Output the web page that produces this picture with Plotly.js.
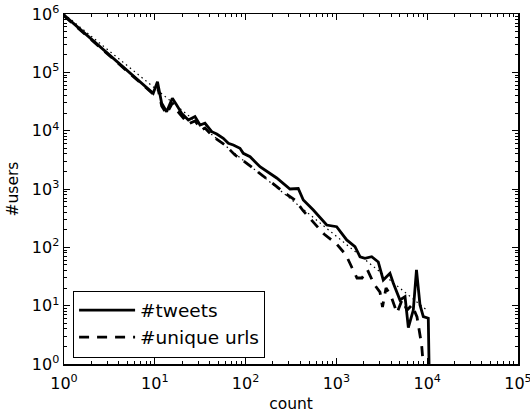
<!DOCTYPE html>
<html>
<head>
<meta charset="utf-8">
<script src="https://cdn.plot.ly/plotly-3.0.1.min.js"></script>
<style>html,body{margin:0;padding:0;background:#fff;}#chart{width:530px;height:413px;}</style>
</head>
<body>
<div id="chart"></div>
<script>
// #tweets (solid)
const tweetsCount = [1,2,3,4,5,6,7,8,9,9.6,10.7,11.9,13.5,15.6,17.4,19.8,23.4,27.7,31.5,35.7,42.4,48.1,56.8,64.5,73.2,86.7,94.3,112,144,220,308,380,432,557,782,1006,1298,1602,1820,2065,2448,2893,3283,3890,4236,5012,5700,6200,7030,7620,8330,9060,10280,10740];
const tweetsUsers = [960000,372000,214000,145000,107000,83000,67000,56000,48000,43700,69200,29500,21100,35900,27500,19800,15200,17400,12500,13400,9620,8770,7390,6080,5680,4990,4090,3580,2410,1545,1000,1020,649,437,241,226,134,103,69,65,69,56,27.5,35.9,24.2,12.5,14.3,4.2,8.4,40.9,10.3,6.5,6.1,0.1];
// #unique urls (dashed)
const urlsCount = [1,2,3,4,5,6,7,8,9,9.6,10.7,11.9,13.5,15.6,17.4,19.8,23.4,27.7,32.9,35.7,44.1,59.3,76.4,103,144,202,272,350,432,557,730,990,1275,1473,1685,1914,2200,2594,3020,3220,3520,3990,4650,5280,6000,6800,7720,8690,9230];
const urlsUsers = [930000,362000,208000,141000,104000,81000,65500,54500,46500,42600,58300,26500,19300,29800,22600,17800,13000,14700,10300,11100,7800,5690,3830,2760,1860,1220,844,649,420,275,169,117,74,46,29.8,29.8,40.9,23.5,17.1,9.5,20.1,14.7,7.5,12.5,8.4,10.3,6.4,2.1,0.65];
// power-law fit (dotted)
const fitCount = [1,10000];
const fitUsers = [1000000,8.3];

const xTickVals = [1,10,100,1000,10000,100000];
const xTickText = ["10<sup>0</sup>","10<sup>1</sup>","10<sup>2</sup>","10<sup>3</sup>","10<sup>4</sup>","10<sup>5</sup>"];
const yTickVals = [1,10,100,1000,10000,100000,1000000];
const yTickText = ["10<sup>0</sup>","10<sup>1</sup>","10<sup>2</sup>","10<sup>3</sup>","10<sup>4</sup>","10<sup>5</sup>","10<sup>6</sup>"];

const FONT = "DejaVu Sans, sans-serif";

const traces = [
  {x: tweetsCount, y: tweetsUsers, mode: 'lines', name: '#tweets',
   line: {color: 'black', width: 2.8}},
  {x: urlsCount, y: urlsUsers, mode: 'lines', name: '#unique urls',
   line: {color: 'black', width: 2.8, dash: '10px,8px'}},
  {x: fitCount, y: fitUsers, mode: 'lines', showlegend: false,
   line: {color: 'black', width: 1.2, dash: '1.5px,3.5px'}}
];

const axisCommon = {
  type: 'log', showgrid: false, zeroline: false,
  showline: true, linecolor: 'black', linewidth: 1.5, mirror: 'allticks',
  ticks: 'inside', ticklen: 6, tickwidth: 1, tickcolor: 'black',
  tickmode: 'array', ticklabeloverflow: 'allow',
  minor: {ticks: 'inside', ticklen: 3, tickwidth: 1, tickcolor: 'black', dtick: 'D1', showgrid: false},
  tickfont: {family: FONT, size: 16, color: 'black'}
};

const layout = {
  width: 530, height: 413,
  margin: {l: 64, r: 12, t: 14, b: 49},
  paper_bgcolor: 'white', plot_bgcolor: 'white',
  font: {family: FONT, size: 16, color: 'black'},
  xaxis: Object.assign({}, axisCommon, {
    range: [0, 5], tickvals: xTickVals, ticktext: xTickText, ticklabelstandoff: 4,
    title: {text: 'count', font: {family: FONT, size: 15.5, color: 'black'}, standoff: 7}
  }),
  yaxis: Object.assign({}, axisCommon, {
    range: [0, 6], tickvals: yTickVals, ticktext: yTickText,
    title: {text: '#users', font: {family: FONT, size: 15.5, color: 'black'}, standoff: 9}
  }),
  showlegend: true,
  legend: {
    x: 0.02, y: 0.21, xanchor: 'left', yanchor: 'top',
    bgcolor: 'white', bordercolor: 'black', borderwidth: 1,
    font: {family: FONT, size: 18.5, color: 'black'},
    tracegroupgap: 0, itemwidth: 56
  }
};

Plotly.newPlot('chart', traces, layout, {displayModeBar: false, staticPlot: true});
</script>
</body>
</html>
